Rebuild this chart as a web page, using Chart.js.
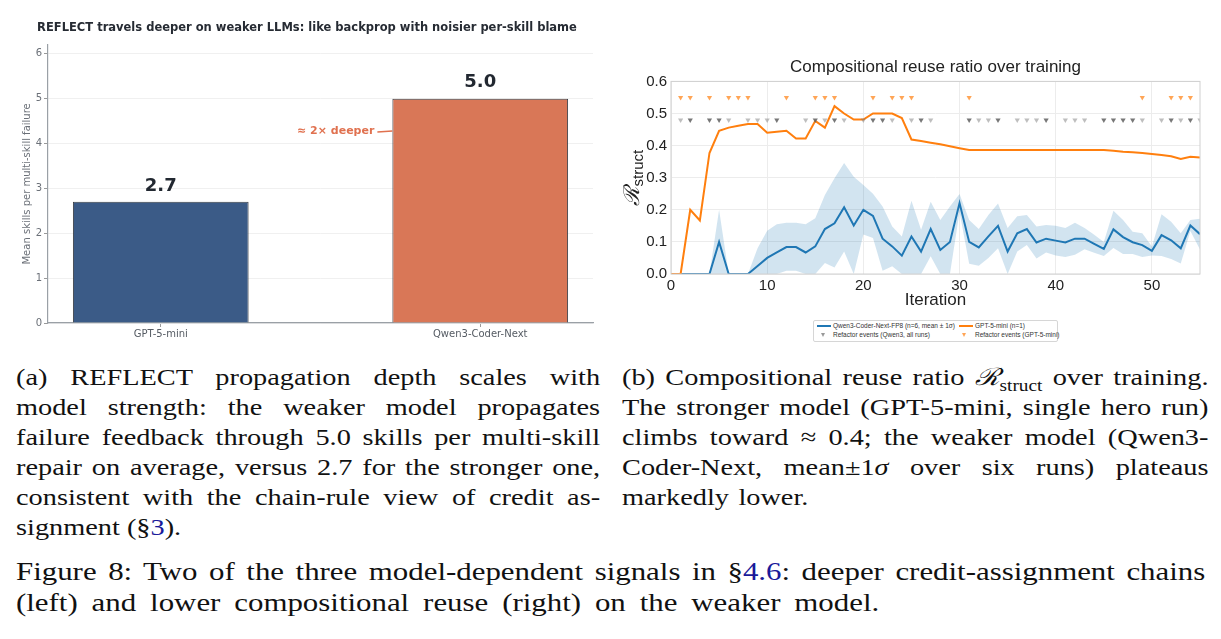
<!DOCTYPE html>
<html>
<head>
<meta charset="utf-8">
<script src="https://cdn.jsdelivr.net/npm/chart.js@4.4.1/dist/chart.umd.min.js"></script>
<style>
  body { margin: 0; background: #fff; width: 1221px; height: 639px; position: relative; overflow: hidden; }
  canvas { position: absolute; }
  #depthChart { left: 0; top: 0; }
  #reuseChart { left: 610px; top: 40px; }
  .legend { position: absolute; left: 813px; top: 320px; width: 243px; height: 20px; border: 1px solid #d6d6d6; border-radius: 2px;
    font: 6.5px "Liberation Sans", Arial, sans-serif; color: #333; }
  .legend span { position: absolute; white-space: nowrap; line-height: 8px; }
  .legend i { position: absolute; display: block; }
  .ln { height: 2px; width: 14px; }
  .tri { width: 0; height: 0; border-left: 2.6px solid transparent; border-right: 2.6px solid transparent; border-top: 4px solid; }
  .cap { position: absolute; font-family: "Liberation Serif", "DejaVu Serif", serif; color: #111; transform-origin: 0 0; }
  .cap div { height: 30px; line-height: 30px; white-space: nowrap; }
  .cap .j { text-align: justify; text-align-last: justify; }
  .ref { color: #1a1a9a; }
  sub { font-size: 0.68em; line-height: 0; vertical-align: -0.35em; }
</style>
</head>
<body>
<canvas id="depthChart" width="610" height="345"></canvas>
<canvas id="reuseChart" width="611" height="280"></canvas>

<div class="legend">
  <i class="ln" style="left:3px; top:4px; background:#1f77b4"></i>
  <span style="left:19px; top:1px">Qwen3-Coder-Next-FP8 (n=6, mean ± 1σ)</span>
  <i class="ln" style="left:145px; top:4px; background:#ff7f0e"></i>
  <span style="left:161px; top:1px">GPT-5-mini (n=1)</span>
  <i class="tri" style="left:7px; top:12px; border-top-color:#999"></i>
  <span style="left:19px; top:10px">Refactor events (Qwen3, all runs)</span>
  <i class="tri" style="left:148px; top:12px; border-top-color:rgba(255,127,14,0.7)"></i>
  <span style="left:161px; top:10px">Refactor events (GPT-5-mini)</span>
</div>

<div class="cap" style="left:16px; top:362px; width:495px; font-size:24px; transform:scaleX(1.18)">
  <div class="j">(a) REFLECT propagation depth scales with</div>
  <div class="j">model strength: the weaker model propagates</div>
  <div class="j">failure feedback through 5.0 skills per multi-skill</div>
  <div class="j">repair on average, versus 2.7 for the stronger one,</div>
  <div class="j">consistent with the chain-rule view of credit as-</div>
  <div>signment (§<span class="ref">3</span>).</div>
</div>

<div class="cap" style="left:622px; top:362px; width:497px; font-size:24px; transform:scaleX(1.18)">
  <div class="j">(b) Compositional reuse ratio <i>ℛ</i><sub>struct</sub> over training.</div>
  <div class="j">The stronger model (GPT-5-mini, single hero run)</div>
  <div class="j">climbs toward ≈ 0.4; the weaker model (Qwen3-</div>
  <div class="j">Coder-Next, mean±1<i>σ</i> over six runs) plateaus</div>
  <div style="word-spacing:2px">markedly lower.</div>
</div>

<div class="cap" style="left:16px; top:556px; width:963px; font-size:25px; transform:scaleX(1.235)">
  <div class="j" style="height:31px; line-height:31px">Figure 8: Two of the three model-dependent signals in §<span class="ref">4.6</span>: deeper credit-assignment chains</div>
  <div style="height:31px; line-height:31px; word-spacing:5px">(left) and lower compositional reuse (right) on the weaker model.</div>
</div>

<script>
// ---- left panel: REFLECT propagation depth ----
const models = ['GPT-5-mini', 'Qwen3-Coder-Next'];
const meanSkills = [2.7, 5.0];
const modelColours = ['#3b5b87', '#d97757'];
const depthTicks = [0, 1, 2, 3, 4, 5, 6];
const ratioNote = '≈ 2× deeper';
const ratioNoteAt = 4.28;

// ---- right panel: compositional reuse ratio ----
const iterations = [0,1,2,3,4,5,6,7,8,9,10,11,12,13,14,15,16,17,18,19,20,21,22,23,24,25,26,27,
  28,29,30,31,32,33,34,35,36,37,38,39,40,41,42,43,44,45,46,47,48,49,50,51,52,53,54,55];
const qwenMean = [0,0,0,0,0,0.10,0,0,0,0.025,
  0.05,0.067,0.084,0.084,0.067,0.086,0.14,0.158,0.208,0.151,
  0.20,0.181,0.11,0.086,0.057,0.117,0.07,0.14,0.075,0.10,
  0.221,0.10,0.083,0.117,0.15,0.07,0.127,0.14,0.098,0.11,
  0.104,0.098,0.11,0.11,0.094,0.078,0.139,0.115,0.099,0.09,
  0.072,0.121,0.105,0.08,0.151,0.124];
const qwenUpper = [0,0,0,0,0,0.20,0,0,0,0.08,
  0.135,0.155,0.16,0.16,0.155,0.174,0.246,0.298,0.346,0.303,
  0.277,0.25,0.21,0.148,0.117,0.228,0.138,0.225,0.168,0.21,
  0.249,0.168,0.14,0.184,0.22,0.143,0.18,0.184,0.148,0.153,
  0.15,0.143,0.16,0.143,0.122,0.10,0.197,0.168,0.132,0.127,
  0.086,0.186,0.163,0.127,0.168,0.172];
const qwenLower = [0,0,0,0,0,0,0,0,0,0,
  0,0,0.01,0.01,0,0,0.034,0.02,0.07,0,
  0.123,0.112,0.01,0.024,0,0,0,0.055,0,0,
  0.193,0.032,0.026,0.05,0.08,0,0.07,0.09,0.048,0.067,
  0.058,0.053,0.06,0.077,0.066,0.056,0.081,0.062,0.062,0.053,
  0.058,0.056,0.047,0.033,0.134,0.076];
const gptRatio = [0,0,0.20,0.167,0.377,0.446,0.456,0.462,0.467,0.467,
  0.44,0.443,0.446,0.422,0.422,0.477,0.456,0.523,0.50,0.481,
  0.481,0.50,0.50,0.50,0.486,0.419,0.414,0.409,0.404,0.398,
  0.392,0.386,0.386,0.386,0.386,0.386,0.386,0.386,0.386,0.386,
  0.386,0.386,0.386,0.386,0.386,0.386,0.384,0.381,0.379,0.377,
  0.374,0.371,0.367,0.358,0.365,0.363];
// refactor event iterations, drawn as marker rows
const qwenRefactorIters = [1,2,4,5,6,8,9,10,11,14,15,16,17,18,20,21,22,23,25,26,27,
  31,32,33,34,36,37,38,39,41,42,43,45,46,47,48,49,51,52,53,54,55];
const qwenRefactorRuns = [1,2,2,2,1,1,1,1,2,1,2,1,2,1,1,2,2,1,1,2,1,
  2,1,1,2,1,1,1,2,1,1,1,2,2,2,2,1,1,2,1,2,1];
const gptRefactorIters = [1,2,4,6,7,8,12,15,16,17,21,23,24,25,31,49,52,53,54];
const qwenMarkerLevel = 0.48;
const gptMarkerLevel = 0.55;

// value labels and the ratio note on the left panel
const depthNotes = {
    id: 'depthNotes',
    afterDatasetsDraw(chart) {
        const { ctx } = chart;
        const bars = chart.getDatasetMeta(0).data;
        ctx.save();
        ctx.font = 'bold 18px "DejaVu Sans"';
        ctx.fillStyle = '#222831';
        ctx.textAlign = 'center';
        ctx.textBaseline = 'bottom';
        bars.forEach((bar, i) => ctx.fillText(meanSkills[i].toFixed(1), bar.x, bar.y - 7));

        const y = chart.scales.y.getPixelForValue(ratioNoteAt);
        const edge = bars[1].x - bars[1].width / 2;
        ctx.strokeStyle = '#e0714f';
        ctx.lineWidth = 1.5;
        ctx.beginPath();
        ctx.moveTo(edge - 15, y + 1);
        ctx.lineTo(edge, y);
        ctx.stroke();
        ctx.font = 'bold 11px "DejaVu Sans"';
        ctx.fillStyle = '#e0714f';
        ctx.textAlign = 'right';
        ctx.textBaseline = 'middle';
        ctx.fillText(ratioNote, edge - 18, y);
        ctx.restore();
    }
};

new Chart(document.getElementById('depthChart'), {
    type: 'bar',
    data: {
        datasets: [{
            data: models.map((m, i) => ({ x: i, y: meanSkills[i] })),
            backgroundColor: modelColours,
            borderColor: '#3a3f47',
            borderWidth: 1,
            categoryPercentage: 1,
            barPercentage: 0.55,
        }]
    },
    options: {
        responsive: false,
        animation: false,
        // padding left keeps the title centred where the original sits
        layout: { padding: { left: 21, right: 17, top: 0, bottom: 0 } },
        plugins: {
            legend: { display: false },
            tooltip: { enabled: false },
            title: {
                display: true,
                text: 'REFLECT travels deeper on weaker LLMs: like backprop with noisier per-skill blame',
                color: '#262b33',
                font: { family: 'DejaVu Sans', size: 11.5, weight: 'bold' },
                padding: { top: 21, bottom: 10 },
            },
        },
        scales: {
            x: {
                type: 'linear',
                offset: false,
                min: -0.353,
                max: 1.353,
                afterBuildTicks: scale => { scale.ticks = models.map((m, i) => ({ value: i })); },
                afterFit: scale => { scale.height = 22; },
                ticks: {
                    callback: (v) => models[v],
                    color: '#555b63',
                    font: { family: 'DejaVu Sans', size: 10 },
                    padding: 1,
                    maxRotation: 0,
                },
                grid: { display: true, offset: false, drawOnChartArea: false, tickLength: 4, tickColor: '#999' },
                border: { color: '#9aa0a6', width: 1.2 },
            },
            y: {
                min: 0,
                max: 6.2,
                afterBuildTicks: scale => { scale.ticks = depthTicks.map(v => ({ value: v })); },
                afterFit: scale => { scale.width = 27; },
                ticks: {
                    color: '#6b7078',
                    font: { family: 'DejaVu Sans', size: 10 },
                    padding: 2,
                },
                grid: { color: '#f0f0f0', tickLength: 4, tickColor: '#999' },
                border: { color: '#9aa0a6', width: 1.2 },
                title: {
                    display: true,
                    text: 'Mean skills per multi-skill failure',
                    color: '#6b7078',
                    font: { family: 'DejaVu Sans', size: 10 },
                    padding: { top: 0, bottom: 0 },
                },
            },
        },
    },
    plugins: [depthNotes],
});

// box around the plot and the R_struct axis label
const reuseFrame = {
    id: 'reuseFrame',
    afterDraw(chart) {
        const { ctx, chartArea: a } = chart;
        ctx.save();
        ctx.strokeStyle = '#d0d0d0';
        ctx.lineWidth = 1;
        ctx.strokeRect(a.left, a.top, a.right - a.left, a.bottom - a.top);
        ctx.translate(a.left - 40, (a.top + a.bottom) / 2);
        ctx.rotate(-Math.PI / 2);
        ctx.fillStyle = '#222';
        ctx.textBaseline = 'alphabetic';
        ctx.font = 'italic 22px "DejaVu Serif"';
        const rw = ctx.measureText('ℛ').width;
        ctx.font = '15px "Liberation Sans"';
        const sw = ctx.measureText('struct').width;
        const x0 = -(rw + sw) / 2;
        ctx.font = 'italic 22px "DejaVu Serif"';
        ctx.fillText('ℛ', x0, 8);
        ctx.font = '15px "Liberation Sans"';
        ctx.fillText('struct', x0 + rw, 12);
        ctx.restore();
    }
};

new Chart(document.getElementById('reuseChart'), {
    type: 'line',
    data: {
        datasets: [
            {
                data: iterations.map((it, i) => ({ x: it, y: qwenUpper[i] })),
                borderWidth: 0,
                pointRadius: 0,
                fill: '+1',
                backgroundColor: 'rgba(31,119,180,0.2)',
                order: 4,
            },
            {
                data: iterations.map((it, i) => ({ x: it, y: qwenLower[i] })),
                borderWidth: 0,
                pointRadius: 0,
                fill: false,
                order: 5,
            },
            {
                data: iterations.map((it, i) => ({ x: it, y: qwenMean[i] })),
                borderColor: '#1f77b4',
                borderWidth: 2,
                pointRadius: 0,
                order: 3,
            },
            {
                data: iterations.map((it, i) => ({ x: it, y: gptRatio[i] })),
                borderColor: '#ff7f0e',
                borderWidth: 2,
                pointRadius: 0,
                order: 2,
            },
            {
                data: qwenRefactorIters.map(it => ({ x: it, y: qwenMarkerLevel })),
                showLine: false,
                pointStyle: 'triangle',
                rotation: 180,
                pointRadius: 3,
                pointBorderWidth: 0,
                pointBackgroundColor: qwenRefactorRuns.map(n => n > 1 ? 'rgba(95,95,95,0.85)' : 'rgba(125,125,125,0.5)'),
                order: 1,
            },
            {
                data: gptRefactorIters.map(it => ({ x: it, y: gptMarkerLevel })),
                showLine: false,
                pointStyle: 'triangle',
                rotation: 180,
                pointRadius: 3,
                pointBorderWidth: 0,
                pointBackgroundColor: 'rgba(255,127,14,0.7)',
                order: 0,
            },
        ]
    },
    options: {
        responsive: false,
        animation: false,
        layout: { padding: { left: 0, right: 21, top: 0, bottom: 9 } },
        plugins: {
            legend: { display: false },
            tooltip: { enabled: false },
            title: {
                display: true,
                fullSize: false,
                text: 'Compositional reuse ratio over training',
                color: '#222',
                font: { family: 'Liberation Sans', size: 17, weight: 'normal' },
                padding: { top: 17, bottom: 4 },
            },
        },
        scales: {
            x: {
                type: 'linear',
                min: 0,
                max: 55,
                afterBuildTicks: scale => { scale.ticks = scale.ticks.filter(t => t.value % 10 === 0); },
                afterFit: scale => { scale.height = 37; },
                ticks: {
                    stepSize: 10,
                    color: '#222',
                    font: { family: 'Liberation Sans', size: 15 },
                    padding: 3,
                    maxRotation: 0,
                },
                grid: { color: '#ececec', drawTicks: false },
                border: { display: false },
                title: {
                    display: true,
                    text: 'Iteration',
                    color: '#222',
                    font: { family: 'Liberation Sans', size: 17 },
                    padding: 0,
                },
            },
            y: {
                min: 0,
                max: 0.6,
                afterFit: scale => { scale.width = 61; },
                ticks: {
                    stepSize: 0.1,
                    callback: v => v.toFixed(1),
                    color: '#222',
                    font: { family: 'Liberation Sans', size: 15 },
                    padding: 4,
                },
                grid: { color: '#ececec', drawTicks: false },
                border: { display: false },
            },
        },
    },
    plugins: [reuseFrame],
});
</script>
</body>
</html>
